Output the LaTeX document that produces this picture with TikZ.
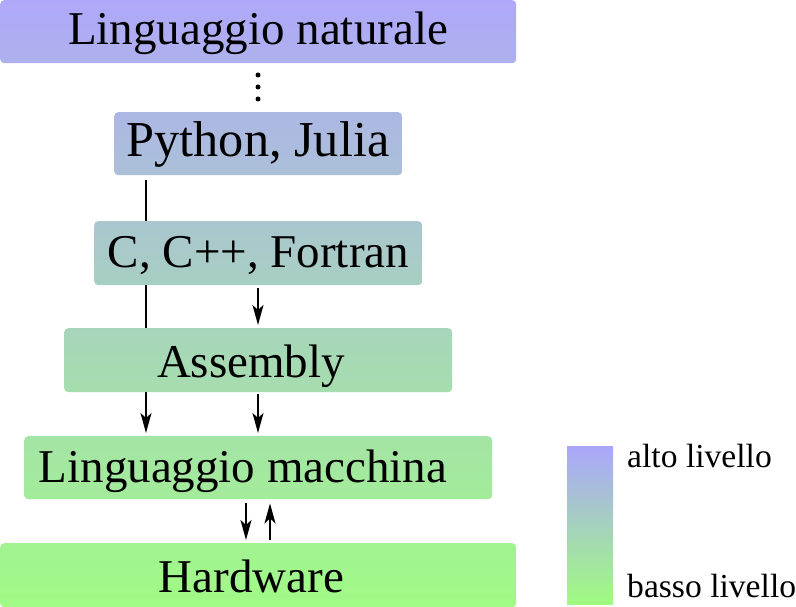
\documentclass[tikz,border=0pt]{standalone}
\usepackage{fontspec}
\setmainfont{Liberation Serif}
\usetikzlibrary{arrows.meta}
\pgfdeclarelayer{bg}
\pgfsetlayers{bg,main}
\definecolor{topc}{RGB}{175,168,249}
\definecolor{botc}{RGB}{160,251,133}
\definecolor{legtop}{RGB}{170,166,251}
\definecolor{legbot}{RGB}{160,251,128}
\begin{document}
\begin{tikzpicture}[x=1pt,y=-1pt,
  lvbox/.style 2 args={rectangle, rounded corners=4pt, inner sep=0pt, anchor=north west,
    top color=botc!#1!topc, bottom color=botc!#2!topc, draw=none},
  lbl/.style={inner sep=0pt, anchor=base, font=\fontsize{47}{50}\selectfont},
  leglbl/.style={inner sep=0pt, anchor=base west, font=\fontsize{33.6}{36}\selectfont},
  conn/.style={line width=2pt, -{Stealth[length=20pt,width=11pt,inset=5pt]}},
  dotmark/.style={circle, fill=black, inner sep=0pt, minimum size=5pt}]
\useasboundingbox (0,0) rectangle (796,607);

\node[lvbox={0}{10.4}, minimum width=516pt, minimum height=63pt] (b1) at (0,0) {};
\node[lbl] (t1) at (258,45) {Linguaggio naturale};

\node[lvbox={18.5}{28.8}, minimum width=288pt, minimum height=63pt] (b2) at (114,112) {};
\node[lbl, font=\fontsize{50.3}{53}\selectfont] (t2) at (258,157) {Python, Julia};

\node[lvbox={36.4}{47}, minimum width=328pt, minimum height=64pt] (b3) at (94,221) {};
\node[lbl] (t3) at (258.5,267) {C, C++, Fortran};

\node[lvbox={54}{64.6}, minimum width=388pt, minimum height=64pt] (b4) at (64,328) {};
\node[lbl] (t4) at (251,377) {Assembly};

\node[lvbox={71.8}{82.2}, minimum width=468pt, minimum height=63pt] (b5) at (24,436) {};
\node[lbl] (t5) at (243,482) {Linguaggio macchina};

\node[lvbox={89.5}{100}, minimum width=516pt, minimum height=64pt] (b6) at (0,543) {};
\node[lbl] (t6) at (251.5,592) {Hardware};

\node[dotmark] (d1) at (258,75) {};
\node[dotmark] (d2) at (258,87) {};
\node[dotmark] (d3) at (258,99) {};

\node[anchor=north west, minimum width=46pt, minimum height=158pt, inner sep=0pt,
  top color=legtop, bottom color=legbot] (leg) at (567,446) {};
\node[leglbl] (la) at (627,467) {alto livello};
\node[leglbl] (lb) at (627,597) {basso livello};

\coordinate (xl) at (146,0);
\coordinate (xm) at (258,0);
\coordinate (xd) at (246,0);
\coordinate (xu) at (270,0);

\begin{pgfonlayer}{bg}
\draw[conn, shorten <=5pt, shorten >=3pt] (b2.south -| xl) -- (b5.north -| xl);
\end{pgfonlayer}
\draw[conn, shorten <=3pt, shorten >=3pt] (b3.south -| xm) -- (b4.north -| xm);
\draw[conn, shorten <=2pt, shorten >=3pt] (b4.south -| xm) -- (b5.north -| xm);
\draw[conn, shorten <=4pt, shorten >=3pt] (b5.south -| xd) -- (b6.north -| xd);
\draw[conn, shorten <=3pt, shorten >=4pt] (b6.north -| xu) -- (b5.south -| xu);
\end{tikzpicture}
\end{document}
